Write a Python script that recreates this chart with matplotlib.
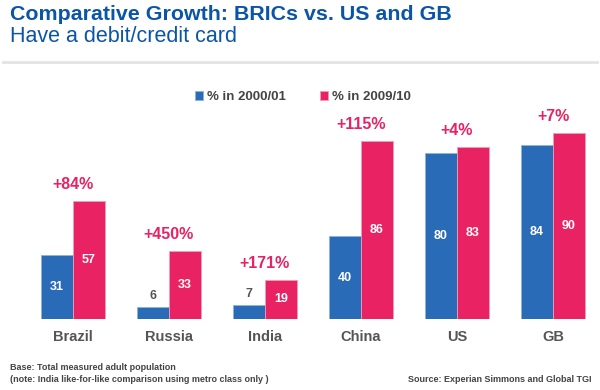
import matplotlib
matplotlib.use("Agg")
import matplotlib.pyplot as plt
import numpy as np

plt.rcParams['font.family'] = ['Liberation Sans', 'DejaVu Sans']

countries = ['Brazil', 'Russia', 'India', 'China', 'US', 'GB']
pct_2000 = [31, 6, 7, 40, 80, 84]
pct_2009 = [57, 33, 19, 86, 83, 90]
growth = ['+84%', '+450%', '+171%', '+115%', '+4%', '+7%']
series_names = ['% in 2000/01', '% in 2009/10']

blue = '#2a6bb8'
pink = '#e82263'
title_blue = '#0b55a8'
gray = '#555555'

fig = plt.figure(figsize=(6, 3.9), dpi=100)

# axes placed so that baseline is at ~319px and groups are 96px apart
ax = fig.add_axes([20 / 600, 1 - 319 / 390, 570 / 600, 219 / 390])
x = np.arange(len(countries))
w = 1 / 3
b1 = ax.bar(x - w / 2, pct_2000, w, color=blue, edgecolor='#8fb2dd', linewidth=0.6)
b2 = ax.bar(x + w / 2, pct_2009, w, color=pink, edgecolor='#f59ab5', linewidth=0.6)
ax.set_xlim((20 - 73) / 96, (590 - 73) / 96)
ax.set_ylim(0, 219 / 2.07)
ax.axis('off')

for i in range(len(countries)):
    for xpos, v in ((x[i] - w / 2, pct_2000[i]), (x[i] + w / 2, pct_2009[i])):
        if v >= 15:
            ax.text(xpos, v / 2, str(v), ha='center', va='center', color='white',
                    fontsize=9, fontweight='bold')
        else:
            ax.text(xpos, v + 2, str(v), ha='center', va='bottom', color=gray,
                    fontsize=9, fontweight='bold')
    ax.annotate(growth[i], (x[i], pct_2009[i]), xytext=(0, 6.5), textcoords='offset points',
                ha='center', va='bottom', color=pink, fontsize=11.5, fontweight='bold')
    ax.annotate(countries[i], (x[i], 0), xytext=(0, -13), textcoords='offset points',
                ha='center', va='center', color=gray, fontsize=10.5, fontweight='bold')

# legend
leg = ax.legend([b1, b2], series_names, loc='upper center', bbox_to_anchor=(0.496, 1.095),
                ncol=2, frameon=False, handlelength=0.6, handleheight=0.6,
                handletextpad=0.3, columnspacing=2.6,
                prop={'weight': 'bold', 'size': 9.5})
for t in leg.get_texts():
    t.set_color('#444444')

fig.text(10 / 600, 1 - 14 / 390, 'Comparative Growth: BRICs vs. US and GB', ha='left', va='center',
         color=title_blue, fontsize=15.4, fontweight='bold')
fig.text(10 / 600, 1 - 37 / 390, 'Have a debit/credit card', ha='left', va='center',
         color=title_blue, fontsize=15.5)
fig.add_artist(plt.Line2D([3 / 600, 597 / 600], [1 - 62 / 390, 1 - 62 / 390],
                          color='#e3e3e3', linewidth=2))

fig.text(10 / 600, 1 - 367 / 390, 'Base: Total measured adult population', ha='left', va='center',
         color='#444444', fontsize=6.5, fontweight='bold')
fig.text(10 / 600, 1 - 379 / 390, '(note: India like-for-like comparison using metro class only )',
         ha='left', va='center', color='#444444', fontsize=6.5, fontweight='bold')
fig.text(592 / 600, 1 - 379 / 390, 'Source: Experian Simmons and Global TGI', ha='right', va='center',
         color='#444444', fontsize=6.5, fontweight='bold')

fig.savefig('out.png', dpi=100)
